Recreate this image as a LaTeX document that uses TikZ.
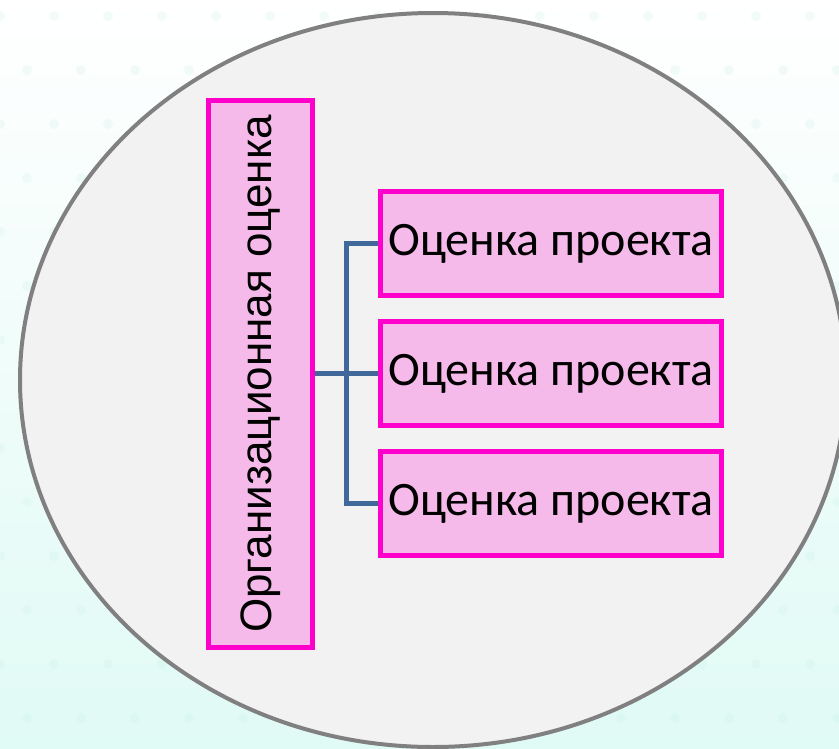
\documentclass[tikz,border=0pt]{standalone}
\usepackage{fontspec}
\setmainfont{Carlito}
\newfontfamily\orgfont{Liberation Sans}
\usetikzlibrary{positioning, calc}
\definecolor{framemagenta}{RGB}{255, 0, 204}
\definecolor{boxpink}{RGB}{245, 185, 234}
\definecolor{linkblue}{RGB}{65, 104, 154}
\definecolor{rimgrey}{RGB}{128, 128, 128}
\definecolor{discgrey}{RGB}{242, 242, 242}
\definecolor{bgcyan}{RGB}{224, 250, 245}
\definecolor{dotcyan}{RGB}{196, 238, 228}

\begin{document}
\begin{tikzpicture}[x=1pt, y=-1pt,
    pinkbox/.style={draw=framemagenta, fill=boxpink, line width=5pt, inner sep=0pt},
    link/.style={draw=linkblue, line width=5pt}]
    \useasboundingbox (0,0) rectangle (839,748);
    \clip (0,0) rectangle (839,748);
    \shade[top color=white, bottom color=bgcyan] (0,0) rectangle (839,748);

    % faint dots behind the disc
    \foreach \i in {0,...,15} {
        \foreach \j in {0,...,13} {
            \fill[dotcyan, opacity=0.2] ({\i*54+mod(\j,2)*27}, {\j*54+16}) circle (5);
        }
    }

    \draw[draw=rimgrey, fill=discgrey, line width=4pt] (433,380) ellipse [x radius=413, y radius=367];

    \node[pinkbox, minimum width=104pt, minimum height=547pt] (org) at (260.5,374)
        {\rotatebox{90}{\orgfont\fontsize{44}{52}\selectfont Организационная оценка}};

    \node[pinkbox, minimum width=341pt, minimum height=104pt, font=\fontsize{48}{58}\selectfont] (p1) at (551,243.5) {Оценка проекта};
    \node[pinkbox, minimum width=341pt, minimum height=104pt, font=\fontsize{48}{58}\selectfont, below=21pt of p1] (p2) {Оценка проекта};
    \node[pinkbox, minimum width=341pt, minimum height=104pt, font=\fontsize{48}{58}\selectfont, below=21pt of p2] (p3) {Оценка проекта};

    \coordinate (fork) at (346,374);
    \draw[link] (org.east |- p2.west) -- (p2.west);
    \draw[link] (p1.west) -| (fork) |- (p3.west);
\end{tikzpicture}
\end{document}
